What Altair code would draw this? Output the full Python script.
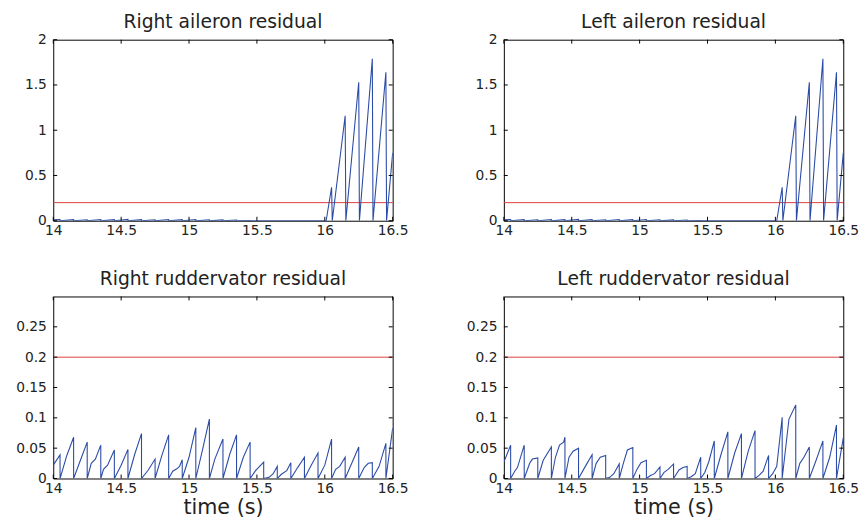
import altair as alt
import pandas as pd

FONT = "DejaVu Sans"
TXT = "#222222"
BLUE = "#2b4ba6"
RED = "#e03c3c"

X_TICKS = [14, 14.5, 15, 15.5, 16, 16.5]
AIL_Y_TICKS = [0, 0.5, 1, 1.5, 2]
RUD_Y_TICKS = [0, 0.05, 0.1, 0.15, 0.2, 0.25]
THRESHOLD = 0.2

TITLES = ["Right aileron residual", "Left aileron residual",
          "Right ruddervator residual", "Left ruddervator residual"]

# aileron residual (both sides look identical in the figure): (time, value)
aileron = [
    (14.00, 0.010), (14.05, 0.014), (14.05, 0), (14.15, 0.012), (14.15, 0),
    (14.25, 0.011), (14.25, 0), (14.35, 0.013), (14.35, 0), (14.45, 0.012),
    (14.45, 0), (14.55, 0.014), (14.55, 0), (14.65, 0.012), (14.65, 0),
    (14.75, 0.011), (14.75, 0), (14.85, 0.013), (14.85, 0), (14.95, 0.012),
    (14.95, 0), (15.05, 0.013), (15.05, 0), (15.15, 0.010), (15.15, 0),
    (15.25, 0.009), (15.25, 0), (15.35, 0.008), (15.35, 0), (15.45, 0.003),
    (15.45, 0), (16.01, 0), (16.05, 0.37), (16.055, 0), (16.15, 1.16),
    (16.155, 0), (16.25, 1.53), (16.255, 0), (16.35, 1.79), (16.355, 0),
    (16.45, 1.64), (16.455, 0), (16.50, 0.75),
]

right_rudder = [
    (14.00, 0.022), (14.05, 0.039), (14.05, 0), (14.10, 0.038), (14.15, 0.068),
    (14.15, 0), (14.20, 0.030), (14.25, 0.060),
    (14.25, 0), (14.28, 0.025), (14.31, 0.032), (14.35, 0.055),
    (14.35, 0), (14.37, 0.015), (14.40, 0.022), (14.45, 0.047),
    (14.45, 0), (14.50, 0.022), (14.55, 0.048),
    (14.55, 0), (14.60, 0.040), (14.65, 0.074),
    (14.65, 0), (14.70, 0.014), (14.75, 0.032),
    (14.75, 0), (14.80, 0.038), (14.85, 0.072),
    (14.85, 0), (14.88, 0.012), (14.91, 0.016), (14.93, 0.020), (14.95, 0.031),
    (14.95, 0), (15.00, 0.035), (15.05, 0.084),
    (15.05, 0), (15.10, 0.048), (15.15, 0.098),
    (15.15, 0), (15.19, 0.032), (15.25, 0.065),
    (15.25, 0), (15.30, 0.040), (15.35, 0.072),
    (15.35, 0), (15.40, 0.035), (15.45, 0.060),
    (15.45, 0), (15.49, 0.013), (15.55, 0.027),
    (15.55, 0), (15.59, 0.002), (15.62, 0.008), (15.65, 0.020),
    (15.65, 0), (15.68, 0.007), (15.72, 0.013), (15.75, 0.026),
    (15.75, 0), (15.80, 0.018), (15.85, 0.035),
    (15.85, 0), (15.90, 0.022), (15.95, 0.042),
    (15.95, 0), (16.00, 0.022), (16.05, 0.065),
    (16.05, 0), (16.08, 0.015), (16.11, 0.020), (16.15, 0.035),
    (16.15, 0), (16.20, 0.026), (16.25, 0.052),
    (16.25, 0), (16.29, 0.018), (16.32, 0.025), (16.35, 0.026),
    (16.35, 0), (16.40, 0.020), (16.45, 0.058),
    (16.45, 0), (16.50, 0.083),
]

left_rudder = [
    (14.00, 0.027), (14.05, 0.055),
    (14.05, 0), (14.08, 0.012), (14.10, 0.018), (14.15, 0.055),
    (14.15, 0), (14.19, 0.025), (14.21, 0.032), (14.25, 0.034),
    (14.25, 0), (14.29, 0.030), (14.35, 0.052),
    (14.35, 0), (14.38, 0.035), (14.41, 0.055), (14.44, 0.060), (14.45, 0.068),
    (14.45, 0), (14.48, 0.035), (14.51, 0.045), (14.55, 0.050),
    (14.55, 0), (14.60, 0.020), (14.65, 0.039),
    (14.65, 0), (14.68, 0.025), (14.71, 0.035), (14.75, 0.038),
    (14.75, 0), (14.78, 0.002), (14.81, 0.008), (14.85, 0.024),
    (14.85, 0), (14.88, 0.025), (14.91, 0.047), (14.95, 0.051),
    (14.95, 0), (14.98, 0.015), (15.01, 0.026), (15.05, 0.030),
    (15.05, 0), (15.08, 0.005), (15.11, 0.008), (15.15, 0.019),
    (15.15, 0), (15.18, 0.010), (15.21, 0.015), (15.25, 0.024),
    (15.25, 0), (15.29, 0.014), (15.32, 0.018), (15.35, 0.020),
    (15.35, 0), (15.38, 0.003), (15.41, 0.008), (15.45, 0.035),
    (15.45, 0), (15.48, 0.010), (15.51, 0.028), (15.55, 0.062),
    (15.55, 0), (15.60, 0.040), (15.65, 0.077),
    (15.65, 0), (15.70, 0.042), (15.75, 0.074),
    (15.75, 0), (15.80, 0.045), (15.85, 0.079),
    (15.85, 0), (15.88, 0.005), (15.91, 0.012), (15.95, 0.038),
    (15.95, 0), (15.98, 0.008), (16.01, 0.020), (16.05, 0.101),
    (16.05, 0), (16.10, 0.098), (16.15, 0.121),
    (16.15, 0), (16.18, 0.025), (16.21, 0.035), (16.25, 0.052),
    (16.25, 0), (16.30, 0.030), (16.35, 0.062),
    (16.35, 0), (16.40, 0.035), (16.45, 0.088),
    (16.45, 0), (16.50, 0.067),
]

W = 345


def panel(title, pts, ymax, yticks, bottom):
    H = 185 if bottom else 184
    df = pd.DataFrame(pts, columns=["t", "v"])
    df["i"] = range(len(df))
    xscale = alt.Scale(domain=[14, 16.5], nice=False, zero=False)
    yscale = alt.Scale(domain=[0, ymax], nice=False, zero=False)
    xkw = dict(values=X_TICKS, format="~g", grid=False, domain=False, ticks=False,
               labelPadding=3, labelFontSize=14, labelFont=FONT, labelColor=TXT,
               labelOverlap=False, labelFlush=False)
    if bottom:
        xkw.update(title="time (s)", titleFontSize=21, titleFont=FONT,
                   titleFontWeight="normal", titleColor=TXT, titlePadding=2)
    else:
        xkw.update(title="")
    xaxis = alt.Axis(**xkw)
    yaxis = alt.Axis(values=yticks, format="~g", grid=False, domain=False, ticks=False,
                     labelPadding=7, labelFontSize=14, labelFont=FONT, labelColor=TXT,
                     title="", minExtent=40, maxExtent=40, labelOverlap=False,
                     labelFlush=False)
    X = lambda f="t": alt.X(f + ":Q", scale=xscale, axis=xaxis)
    Y = lambda f="v": alt.Y(f + ":Q", scale=yscale, axis=yaxis)

    line = alt.Chart(df).mark_line(color=BLUE, strokeWidth=1.1, clip=True).encode(
        x=X(), y=Y(), order="i:Q")
    thr = alt.Chart(pd.DataFrame({"v": [THRESHOLD]})).mark_rule(
        color=RED, strokeWidth=1).encode(y=Y())
    xt = pd.DataFrame({"t": X_TICKS})
    yt = pd.DataFrame({"v": yticks})
    tb = alt.Chart(xt).mark_rule(color="black").encode(x=X(), y=alt.value(H), y2=alt.value(H - 4))
    tt = alt.Chart(xt).mark_rule(color="black").encode(x=X(), y=alt.value(0), y2=alt.value(4))
    tl = alt.Chart(yt).mark_rule(color="black").encode(y=Y(), x=alt.value(0), x2=alt.value(4))
    tr = alt.Chart(yt).mark_rule(color="black").encode(y=Y(), x=alt.value(W), x2=alt.value(W - 4))
    return alt.layer(thr, line, tb, tt, tl, tr).properties(
        width=W, height=H,
        title=alt.TitleParams(title, fontSize=19, font=FONT, fontWeight="normal",
                              color=TXT, offset=7 if bottom else 1,
                              anchor="middle", frame="group"))


p1 = panel(TITLES[0], aileron, 2, AIL_Y_TICKS, False)
p2 = panel(TITLES[1], aileron, 2, AIL_Y_TICKS, False)
p3 = panel(TITLES[2], right_rudder, 0.3, RUD_Y_TICKS, True)
p4 = panel(TITLES[3], left_rudder, 0.3, RUD_Y_TICKS, True)

chart = alt.concat(p1, p2, p3, p4, columns=2,
                   spacing={"row": 32, "column": 55}).properties(
    padding={"left": 5, "top": 0, "right": 0, "bottom": 0}
).configure_view(stroke="black", strokeWidth=1)

chart.save("out.html", embed_options={"renderer": "svg", "actions": False})
